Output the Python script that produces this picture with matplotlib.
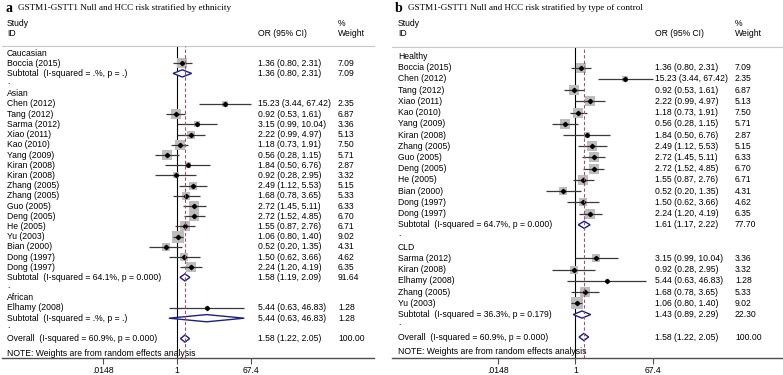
import matplotlib
matplotlib.use('Agg')
import matplotlib.pyplot as plt
import numpy as np
from matplotlib.patches import Polygon
from matplotlib.ticker import NullLocator
from matplotlib.transforms import blended_transform_factory

plt.rcParams['font.family'] = ['Liberation Sans', 'DejaVu Sans']

# ---------------- data ----------------
# Panel a: stratified by ethnicity
caucasian_names = ["Boccia (2015)"]
caucasian_or = [1.36]
caucasian_lo = [0.80]
caucasian_hi = [2.31]
caucasian_w = [7.09]
caucasian_sub = [1.36, 0.80, 2.31, 7.09]
caucasian_sub_label = "Subtotal  (I-squared = .%, p = .)"

asian_names = ["Chen (2012)", "Tang (2012)", "Sarma (2012)", "Xiao (2011)", "Kao (2010)",
               "Yang (2009)", "Kiran (2008)", "Kiran (2008)", "Zhang (2005)", "Zhang (2005)",
               "Guo (2005)", "Deng (2005)", "He (2005)", "Yu (2003)", "Bian (2000)",
               "Dong (1997)", "Dong (1997)"]
asian_or = [15.23, 0.92, 3.15, 2.22, 1.18, 0.56, 1.84, 0.92, 2.49, 1.68, 2.72, 2.72, 1.55, 1.06, 0.52, 1.50, 2.24]
asian_lo = [3.44, 0.53, 0.99, 0.99, 0.73, 0.28, 0.50, 0.28, 1.12, 0.78, 1.45, 1.52, 0.87, 0.80, 0.20, 0.62, 1.20]
asian_hi = [67.42, 1.61, 10.04, 4.97, 1.91, 1.15, 6.76, 2.95, 5.53, 3.65, 5.11, 4.85, 2.76, 1.40, 1.35, 3.66, 4.19]
asian_w = [2.35, 6.87, 3.36, 5.13, 7.50, 5.71, 2.87, 3.32, 5.15, 5.33, 6.33, 6.70, 6.71, 9.02, 4.31, 4.62, 6.35]
asian_sub = [1.58, 1.19, 2.09, 91.64]
asian_sub_label = "Subtotal  (I-squared = 64.1%, p = 0.000)"

african_names = ["Elhamy (2008)"]
african_or = [5.44]
african_lo = [0.63]
african_hi = [46.83]
african_w = [1.28]
african_sub = [5.44, 0.63, 46.83, 1.28]
african_sub_label = "Subtotal  (I-squared = .%, p = .)"

# Panel b: stratified by type of control
healthy_names = ["Boccia (2015)", "Chen (2012)", "Tang (2012)", "Xiao (2011)", "Kao (2010)",
                 "Yang (2009)", "Kiran (2008)", "Zhang (2005)", "Guo (2005)", "Deng (2005)",
                 "He (2005)", "Bian (2000)", "Dong (1997)", "Dong (1997)"]
healthy_or = [1.36, 15.23, 0.92, 2.22, 1.18, 0.56, 1.84, 2.49, 2.72, 2.72, 1.55, 0.52, 1.50, 2.24]
healthy_lo = [0.80, 3.44, 0.53, 0.99, 0.73, 0.28, 0.50, 1.12, 1.45, 1.52, 0.87, 0.20, 0.62, 1.20]
healthy_hi = [2.31, 67.42, 1.61, 4.97, 1.91, 1.15, 6.76, 5.53, 5.11, 4.85, 2.76, 1.35, 3.66, 4.19]
healthy_w = [7.09, 2.35, 6.87, 5.13, 7.50, 5.71, 2.87, 5.15, 6.33, 6.70, 6.71, 4.31, 4.62, 6.35]
healthy_sub = [1.61, 1.17, 2.22, 77.70]
healthy_sub_label = "Subtotal  (I-squared = 64.7%, p = 0.000)"

cld_names = ["Sarma (2012)", "Kiran (2008)", "Elhamy (2008)", "Zhang (2005)", "Yu (2003)"]
cld_or = [3.15, 0.92, 5.44, 1.68, 1.06]
cld_lo = [0.99, 0.28, 0.63, 0.78, 0.80]
cld_hi = [10.04, 2.95, 46.83, 3.65, 1.40]
cld_w = [3.36, 3.32, 1.28, 5.33, 9.02]
cld_sub = [1.43, 0.89, 2.29, 22.30]
cld_sub_label = "Subtotal  (I-squared = 36.3%, p = 0.179)"

overall = [1.58, 1.22, 2.05, 100.00]
overall_label = "Overall  (I-squared = 60.9%, p = 0.000)"
note_text = "NOTE: Weights are from random effects analysis"

tick_vals = [0.0148, 1, 67.4]
tick_labels = [".0148", "1", "67.4"]

title_a = "GSTM1-GSTT1 Null and HCC risk stratified by ethnicity"
title_b = "GSTM1-GSTT1 Null and HCC risk stratified by type of control"

sections_a = [
    ("Caucasian", caucasian_names, caucasian_or, caucasian_lo, caucasian_hi, caucasian_w, caucasian_sub, caucasian_sub_label),
    ("Asian", asian_names, asian_or, asian_lo, asian_hi, asian_w, asian_sub, asian_sub_label),
    ("African", african_names, african_or, african_lo, african_hi, african_w, african_sub, african_sub_label),
]
sections_b = [
    ("Healthy", healthy_names, healthy_or, healthy_lo, healthy_hi, healthy_w, healthy_sub, healthy_sub_label),
    ("CLD", cld_names, cld_or, cld_lo, cld_hi, cld_w, cld_sub, cld_sub_label),
]

# ---------------- drawing ----------------
W, H = 783, 375
FS = 6.2
BOX = '#bdbdbd'
CI = '#3a3a3a'
DIA = '#1f1f80'
DASH = '#a8506a'

fig = plt.figure(figsize=(W / 100, H / 100), dpi=100)


def draw_panel(left_px, right_px, top_px, bottom_px, row0_px, sp_px, sections,
               label_px, or_px, wt_px, letter, title, box_k, note_off):
    ax = fig.add_axes([left_px / W, 1 - bottom_px / H, (right_px - left_px) / W, (bottom_px - top_px) / H])
    ax.set_xscale('log')
    ax.set_xlim(np.exp(-10.0), np.exp(11.26))
    ax.set_ylim((bottom_px - row0_px) / sp_px, (top_px - row0_px) / sp_px)
    wpx = right_px - left_px
    tr = blended_transform_factory(ax.transAxes, ax.transData)
    xl = (label_px - left_px) / wpx
    xo = (or_px - left_px) / wpx
    xw = (wt_px - left_px) / wpx

    def ypx(p):
        return (p - row0_px) / sp_px

    kw = dict(transform=tr, fontsize=FS, va='center', ha='left', clip_on=False)
    ax.text(xl, ypx(23), "Study", **kw)
    ax.text(xl, ypx(33.5), "ID", **kw)
    ax.text(xo, ypx(33.5), "OR (95% CI)", **kw)
    ax.text(xw, ypx(23), "%", **kw)
    ax.text(xw, ypx(33.5), "Weight", **kw)

    def fmt(e, lo, hi):
        return f"{e:.2f} ({lo:.2f}, {hi:.2f})"

    def diamond(y, e, lo, hi):
        h = 3.6 / sp_px
        ax.add_patch(Polygon([[lo, y], [e, y - h], [hi, y], [e, y + h]], closed=True,
                             facecolor='white', edgecolor=DIA, lw=1.0, zorder=4))

    r = 0
    for si, (gname, names, ors, los, his, ws, sub, sub_label) in enumerate(sections):
        ax.text(xl, r, gname, **kw)
        r += 1
        for n, e, lo, hi, w in zip(names, ors, los, his, ws):
            side_pt = box_k * np.sqrt(w) * 0.72
            ax.scatter([e], [r], marker='s', s=side_pt ** 2, color=BOX, linewidths=0, zorder=2)
            ax.plot([lo, hi], [r, r], color=CI, lw=0.9, zorder=3, solid_capstyle='butt')
            ax.plot([e], [r], marker='D', ms=2.2, color='black', zorder=4, lw=0)
            ax.text(xl, r, n, **kw)
            ax.text(xo, r, fmt(e, lo, hi), **kw)
            ax.text(xw, r, f"{w:.2f}", **kw)
            r += 1
        diamond(r, sub[0], sub[1], sub[2])
        ax.text(xl, r, sub_label, **kw)
        ax.text(xo, r, fmt(sub[0], sub[1], sub[2]), **kw)
        ax.text(xw, r, f"{sub[3]:.2f}", **kw)
        r += 1
        ax.text(xl, r - 0.25, ".", **kw)
        r += 1
    diamond(r, overall[0], overall[1], overall[2])
    ax.text(xl, r, overall_label, **kw)
    ax.text(xo, r, fmt(overall[0], overall[1], overall[2]), **kw)
    ax.text(xw, r, f"{overall[3]:.2f}", **kw)
    r += 1
    ax.text(xl, r + note_off, note_text, **kw)

    ax.axvline(1, color='black', lw=0.8, zorder=1.5)
    ax.axvline(overall[0], color=DASH, lw=0.8, ls=(0, (3, 2)), zorder=5)

    for s in ['left', 'right']:
        ax.spines[s].set_visible(False)
    ax.spines['top'].set_color('#c8c8c8')
    ax.spines['top'].set_linewidth(0.8)
    ax.spines['bottom'].set_color('#505050')
    ax.spines['bottom'].set_linewidth(1.0)
    ax.set_yticks([])
    ax.set_xticks(tick_vals)
    ax.set_xticklabels(tick_labels)
    ax.xaxis.set_minor_locator(NullLocator())
    ax.tick_params(axis='x', direction='out', length=4, width=0.8, color='#505050',
                   labelsize=FS, pad=1.5)

    fig.text((left_px + 3) / W, 1 - 8 / H, letter, fontsize=10, fontweight='bold',
             family='Liberation Serif', va='center', ha='left')
    fig.text((left_px + 16) / W, 1 - 8.5 / H, title, fontsize=6.6,
             family='Liberation Serif', va='center', ha='left')
    return ax


draw_panel(2, 374, 46, 358, 53, 10.2, sections_a, 7, 258, 338, 'a', title_a, 3.8, 0.45)
draw_panel(392, 782, 46.5, 358, 56.5, 11.22, sections_b, 398, 655, 735, 'b', title_b, 4.0, 0.25)

fig.savefig('out.png', dpi=100)
